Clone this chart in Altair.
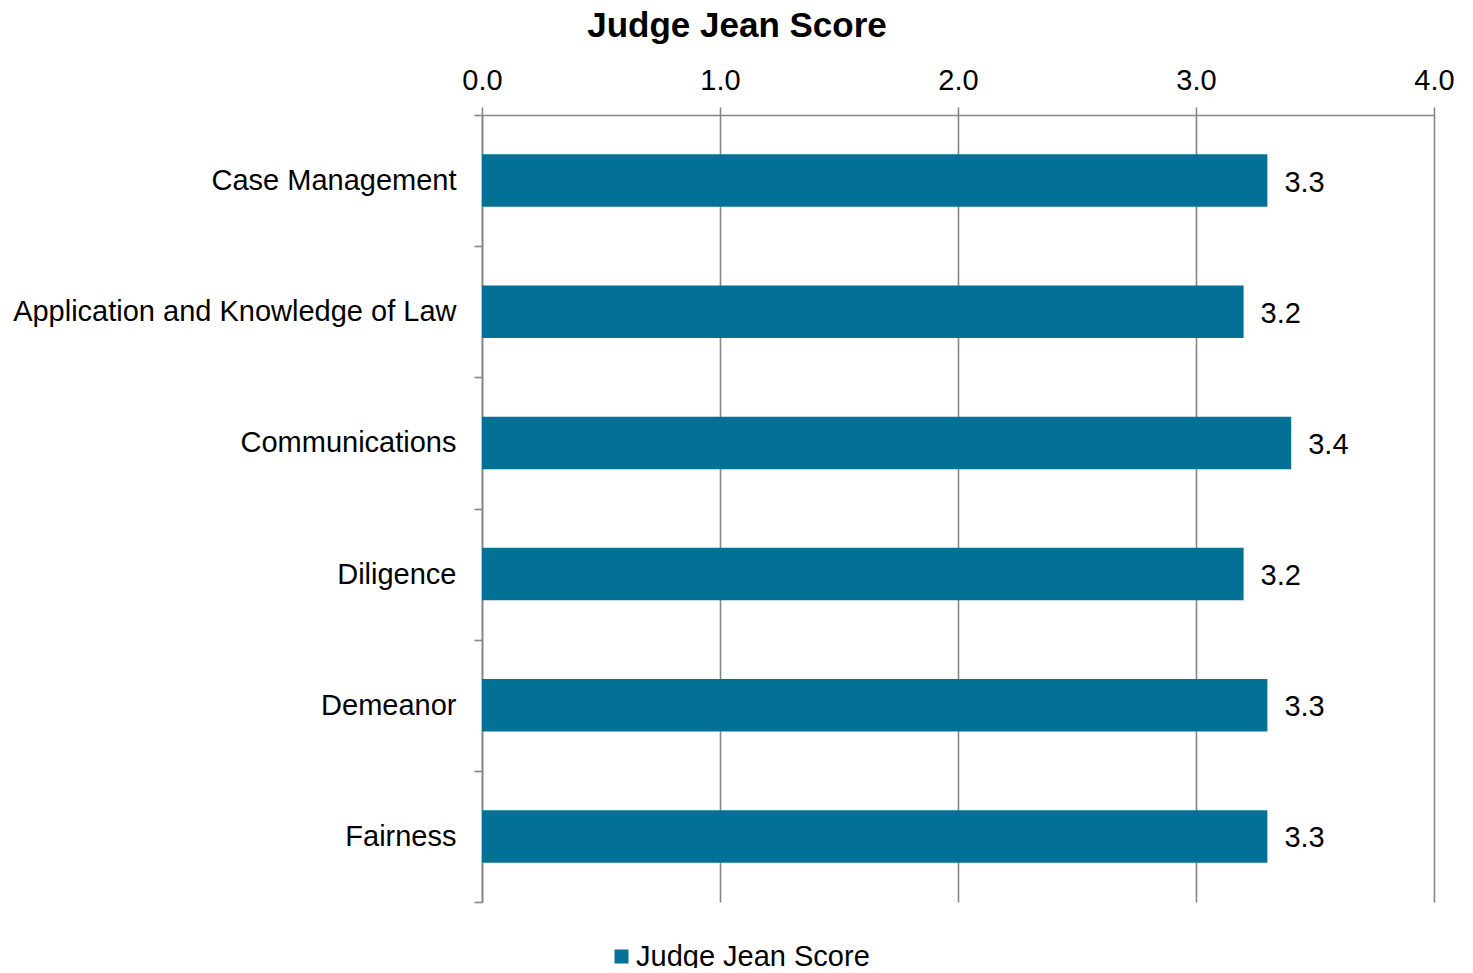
import altair as alt
import pandas as pd

categories = ["Case Management", "Application and Knowledge of Law", "Communications",
              "Diligence", "Demeanor", "Fairness"]
scores = [3.3, 3.2, 3.4, 3.2, 3.3, 3.3]
series_name = "Judge Jean Score"
x_ticks = [0, 1, 2, 3, 4]

df = pd.DataFrame({"category": categories, "score": scores, "series": [series_name] * len(categories)})

FONT = "Liberation Sans"
GRID = "#868686"
BAR = "#037096"
FS = 29

base = alt.Chart(df)

bars = base.mark_bar(color=BAR, height=alt.RelativeBandSize(0.4)).encode(
    y=alt.Y("category:N", sort=categories,
            scale=alt.Scale(paddingInner=0, paddingOuter=0),
            axis=alt.Axis(title=None, labelFontSize=FS, labelFont=FONT, labelColor="#000000",
                          tickBand="extent", tickSize=8, tickColor=GRID, tickWidth=1.6,
                          domainColor=GRID, domainWidth=1.6, labelPadding=18, labelLimit=600)),
    x=alt.X("score:Q", scale=alt.Scale(domain=[0, 4]),
            axis=alt.Axis(orient="top", title=None, values=x_ticks, format=".1f",
                          labelFontSize=FS, labelFont=FONT, labelColor="#000000", labelFlush=False,
                          grid=True, gridColor=GRID, gridWidth=1.6, gridOpacity=1,
                          tickSize=8, tickColor=GRID, tickWidth=1.6,
                          domainColor=GRID, domainWidth=1.6, labelPadding=12)),
    color=alt.Color("series:N", scale=alt.Scale(domain=[series_name], range=[BAR]),
                    legend=alt.Legend(title=None, orient="none", legendX=125, legendY=827,
                                      symbolType="square", symbolSize=196, symbolStrokeWidth=0,
                                      labelFontSize=FS, labelFont=FONT, labelColor="#000000",
                                      labelOffset=0, labelLimit=600, symbolOpacity=1)),
)

labels = base.mark_text(align="left", baseline="middle", dx=17, dy=2, fontSize=FS, font=FONT,
                        color="#000000").encode(
    y=alt.Y("category:N", sort=categories),
    x=alt.X("score:Q"),
    text=alt.Text("score:Q", format=".1f"),
)

chart = (bars + labels).properties(
    width=952, height=787,
    title=alt.TitleParams(series_name, fontSize=35, font=FONT, fontWeight="bold", color="#000000",
                          anchor="middle", dx=-221, offset=22),
    autosize=alt.AutoSizeParams(type="none"),
    padding={"left": 474, "top": 107, "right": 30, "bottom": 66},
).configure_view(stroke=None)

chart.save("out.html", embed_options={"renderer": "svg", "actions": False})
